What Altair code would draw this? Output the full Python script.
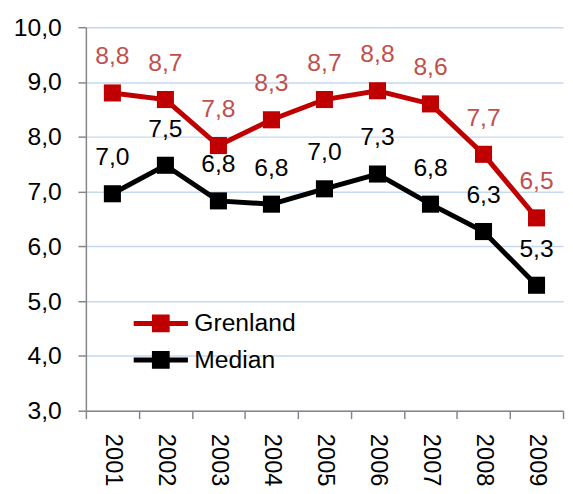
import altair as alt
import pandas as pd

years = ["2001", "2002", "2003", "2004", "2005", "2006", "2007", "2008", "2009"]
grenland = [8.80, 8.68, 7.84, 8.31, 8.68, 8.84, 8.60, 7.68, 6.52]
median = [6.96, 7.48, 6.83, 6.77, 7.05, 7.32, 6.77, 6.27, 5.29]
grenland_labels = ["8,8", "8,7", "7,8", "8,3", "8,7", "8,8", "8,6", "7,7", "6,5"]
median_labels = ["7,0", "7,5", "6,8", "6,8", "7,0", "7,3", "6,8", "6,3", "5,3"]
series = ["Grenland", "Median"]
line_colors = ["#C00000", "#000000"]
label_colors = ["#C0504D", "#000000"]
y_ticks = [3, 4, 5, 6, 7, 8, 9, 10]

rows = []
for i, yr in enumerate(years):
    rows.append({"year": yr, "series": "Grenland", "value": grenland[i], "label": grenland_labels[i]})
    rows.append({"year": yr, "series": "Median", "value": median[i], "label": median_labels[i]})
df = pd.DataFrame(rows)

FONT = "Liberation Sans"
FS = 25

x = alt.X(
    "year:N", sort=years,
    scale=alt.Scale(paddingInner=0, paddingOuter=0),
    axis=alt.Axis(title=None, labelAngle=90, tickBand="extent", grid=False,
                  labelFont=FONT, labelFontSize=24, labelColor="#000000",
                  tickSize=8, tickColor="#868686", tickWidth=1.5,
                  domainColor="#868686", domainWidth=1.5, labelPadding=15),
)
y = alt.Y(
    "value:Q",
    scale=alt.Scale(domain=[3, 10], nice=False, zero=False),
    axis=alt.Axis(title=None, values=y_ticks,
                  labelExpr="replace(format(datum.value, '.1f'), '.', ',')",
                  labelFont=FONT, labelFontSize=FS, labelColor="#000000",
                  tickSize=8, tickColor="#868686", tickWidth=1.5,
                  domainColor="#868686", domainWidth=1.5, labelPadding=17,
                  grid=True, gridColor="#C5D9F1", gridWidth=1.5),
)
color_scale = alt.Scale(domain=series, range=line_colors)

legend_path = "M-2.75,-0.25H2.75V0.25H-2.75Z M-0.9,-0.9H0.9V0.9H-0.9Z"
legend = alt.Legend(orient="none", legendX=63.5, legendY=288,
                    title=None, symbolType=legend_path, symbolSize=400,
                    symbolStrokeWidth=0, labelFont=FONT, labelFontSize=FS,
                    labelColor="#000000", labelOffset=21.5, rowPadding=11,
                    padding=0)

base = alt.Chart(df)
lines = base.mark_line(strokeWidth=5).encode(
    x=x, y=y, color=alt.Color("series:N", scale=color_scale, legend=legend)
)
points = base.mark_point(shape="square", filled=True, size=300, opacity=1).encode(
    x=x, y=y, color=alt.Color("series:N", scale=color_scale, legend=legend),
)
text_g = base.transform_filter(alt.datum.series == "Grenland").mark_text(
    dy=-37, fontSize=FS, font=FONT, color=label_colors[0]
).encode(x=x, y=y, text="label:N")
text_m = base.transform_filter(alt.datum.series == "Median").mark_text(
    dy=-37, fontSize=FS, font=FONT, color=label_colors[1]
).encode(x=x, y=y, text="label:N")

chart = alt.layer(lines, points, text_g, text_m).properties(
    width=484, height=389,
    padding={"left": 79, "top": 16, "right": 2, "bottom": 80},
    autosize=alt.AutoSizeParams(type="none"),
).configure_view(stroke=None)

chart.save("out.html", embed_options={"renderer": "svg", "actions": False})
